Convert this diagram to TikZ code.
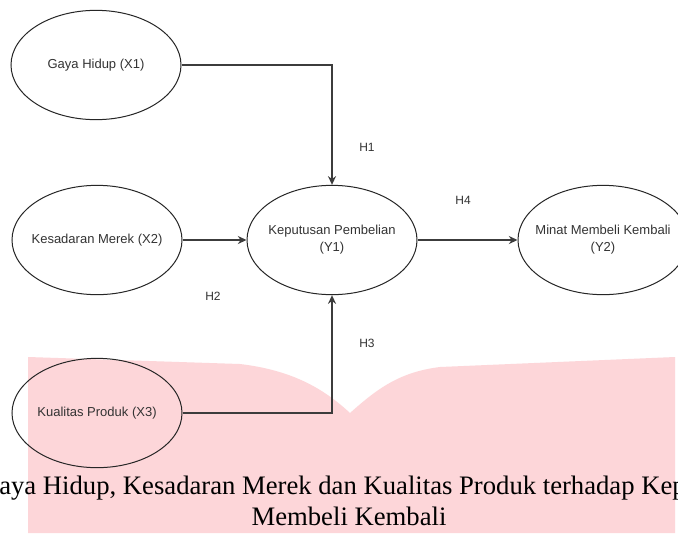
\documentclass[tikz,border=0pt]{standalone}
\usepackage{fontspec}
\setmainfont{Liberation Serif}
\setsansfont{Liberation Sans}
\usetikzlibrary{arrows.meta,shapes.geometric}
\definecolor{pinkbg}{HTML}{FDD6D9}
\definecolor{linec}{HTML}{3C3C3C}
\definecolor{txtc}{HTML}{333333}
\newcommand{\ctxt}[1]{\makebox[0pt][c]{\begin{tabular}{@{}c@{}}#1\end{tabular}}}
\begin{document}
\begin{tikzpicture}[x=0.75pt,y=-0.75pt,
  latent/.style={ellipse, draw=black!85, line width=0.75pt, minimum width=127.5pt, minimum height=82pt, inner sep=0pt,
    text=txtc, font=\sffamily\fontsize{9.75}{12.8}\selectfont},
  conn/.style={draw=linec, line width=1.1pt, -{Stealth[length=6.5pt,width=6pt]}},
  lbl/.style={text=txtc, font=\sffamily\fontsize{9}{11}\selectfont, inner sep=0pt},
  captxt/.style={text=black, font=\fontsize{20}{24}\selectfont, inner sep=0pt}]
\useasboundingbox (0,0) rectangle (678,533);
\clip (0,0) rectangle (678,533);
\fill[white] (0,0) rectangle (678,533);
% pink background shape
\fill[pinkbg] (28,533) -- (28,357) -- (240,364) .. controls (290,370) and (322,387) .. (350,413)
  .. controls (378,388) and (400,372) .. (440,367) -- (675,357) -- (675,533) -- cycle;
% latent variables
\node[latent] (x1) at (96,65) {\ctxt{Gaya Hidup (X1)}};
\node[latent] (x2) at (97,240) {\ctxt{Kesadaran Merek (X2)}};
\node[latent] (x3) at (97,413) {\ctxt{Kualitas Produk (X3)}};
\node[latent] (y1) at (332,240) {\ctxt{Keputusan Pembelian\\(Y1)}};
\node[latent] (y2) at (603,240) {\ctxt{Minat Membeli Kembali\\(Y2)}};
% connectors
\draw[conn] (x1.east) -| (y1.north);
\draw[conn] (x2.east) -- (y1.west);
\draw[conn] (x3.east) -| (y1.south);
\draw[conn] (y1.east) -- (y2.west);
% hypothesis labels
\node[lbl] (h1) at (367,147) {H1};
\node[lbl] (h2) at (213,296) {H2};
\node[lbl] (h3) at (367,343) {H3};
\node[lbl] (h4) at (463,200) {H4};
% caption
\node[captxt, anchor=base west] (cap1) at (-1,494) {aya Hidup, Kesadaran Merek dan Kualitas Produk terhadap Kep};
\node[captxt, anchor=base] (cap2) at (349,525) {Membeli Kembali};
\end{tikzpicture}
\end{document}
